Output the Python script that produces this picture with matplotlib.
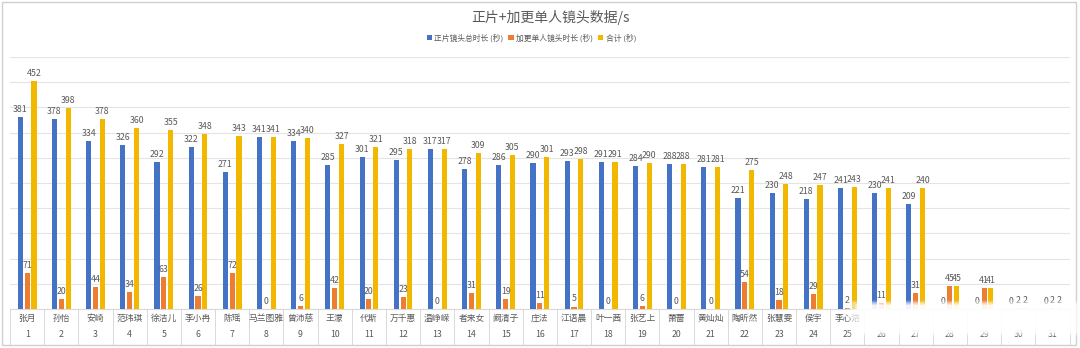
import matplotlib
matplotlib.use("Agg")
import matplotlib.pyplot as plt
from matplotlib.patches import Rectangle, FancyBboxPatch
import numpy as np

plt.rcParams['font.family'] = ['Noto Sans CJK SC', 'DejaVu Sans']

names = ["张月", "孙怡", "安崎", "范玮琪", "徐洁儿", "李小冉", "陈瑶", "马兰图雅", "曾沛慈", "王濛",
         "代斯", "万千惠", "温峥嵘", "者来女", "阚清子", "庄法", "江语晨", "叶一茜", "张艺上", "萧蔷",
         "黄灿灿", "陶昕然", "张慧雯", "侯宇", "李心洁", "", "", "", "", "", ""]
main_secs = [381, 378, 334, 326, 292, 322, 271, 341, 334, 285,
             301, 295, 317, 278, 286, 290, 293, 291, 284, 288,
             281, 221, 230, 218, 241, 230, 209, 0, 0, 0, 0]
extra_secs = [71, 20, 44, 34, 63, 26, 72, 0, 6, 42,
              20, 23, 0, 31, 19, 11, 5, 0, 6, 0,
              0, 54, 18, 29, 2, 11, 31, 45, 41, 2, 2]
total_secs = [452, 398, 378, 360, 355, 348, 343, 341, 340, 327,
              321, 318, 317, 309, 305, 301, 298, 291, 290, 288,
              281, 275, 248, 247, 243, 241, 240, 45, 41, 2, 2]
series_names = ["正片镜头总时长 (秒)", "加更单人镜头时长 (秒)", "合计 (秒)"]
colors = ["#4472C4", "#ED7D31", "#F2B800"]
txt_color = '#595959'

fig = plt.figure(figsize=(10.8, 3.48), dpi=100)
ax = fig.add_axes([0.0093, 0.112, 0.981, 0.724])

x = np.arange(len(names))
w = 0.15
off = 0.2
for vals, dx, c, lab in zip([main_secs, extra_secs, total_secs], [-off, 0, off], colors, series_names):
    bars = ax.bar(x + dx, vals, w, color=c, label=lab, zorder=3)
    for b, v in zip(bars, vals):
        ax.text(b.get_x() + b.get_width() / 2, v + 6, str(v), ha='center', va='bottom',
                fontsize=6.3, color=txt_color, zorder=4)

ax.set_xlim(-0.5, len(names) - 0.5)
ax.set_ylim(0, 500)
ax.set_yticks(np.arange(0, 501, 50))
ax.yaxis.grid(True, color='#e4e4e4', linewidth=0.8, zorder=0)
ax.tick_params(left=False, labelleft=False, bottom=False, labelbottom=False)
for s in ['top', 'right', 'left']:
    ax.spines[s].set_visible(False)
ax.spines['bottom'].set_color('#d9d9d9')

# two-level category labels under the axis
for i in range(len(names)):
    ax.text(i, -18, names[i], ha='center', va='center', fontsize=6.3, color=txt_color,
            clip_on=False)
    ax.text(i, -50, str(i + 1), ha='center', va='center', fontsize=6.3, color=txt_color,
            clip_on=False)
for i in range(len(names) + 1):
    ax.plot([i - 0.5, i - 0.5], [0, -70], color='#d9d9d9', linewidth=0.7, clip_on=False)

fig.suptitle("正片+加更单人镜头数据/s", x=0.51, y=0.97, fontsize=10, color=txt_color)
fig.legend(loc='center', bbox_to_anchor=(0.492, 0.89), ncol=3, frameon=False,
           fontsize=5.6, handlelength=0.7, handleheight=0.7, handletextpad=0.3,
           columnspacing=0.6, labelcolor=txt_color)

# outer frame
fig.patches.append(Rectangle((0.002, 0.008), 0.994, 0.985, transform=fig.transFigure,
                             fill=False, edgecolor='#d0d0d0', linewidth=1))

# watermark haze at bottom right
for k, a in enumerate([0.25, 0.35, 0.5, 0.7]):
    pad = (3 - k) * 0.004
    fig.patches.append(FancyBboxPatch((0.80 - pad, 0.05 - pad), 0.19 + 2 * pad, 0.07 + 2 * pad,
                                      boxstyle='round,pad=0.004', transform=fig.transFigure,
                                      facecolor='white', edgecolor='none', alpha=a, zorder=10))

fig.savefig("out.png", dpi=100)
